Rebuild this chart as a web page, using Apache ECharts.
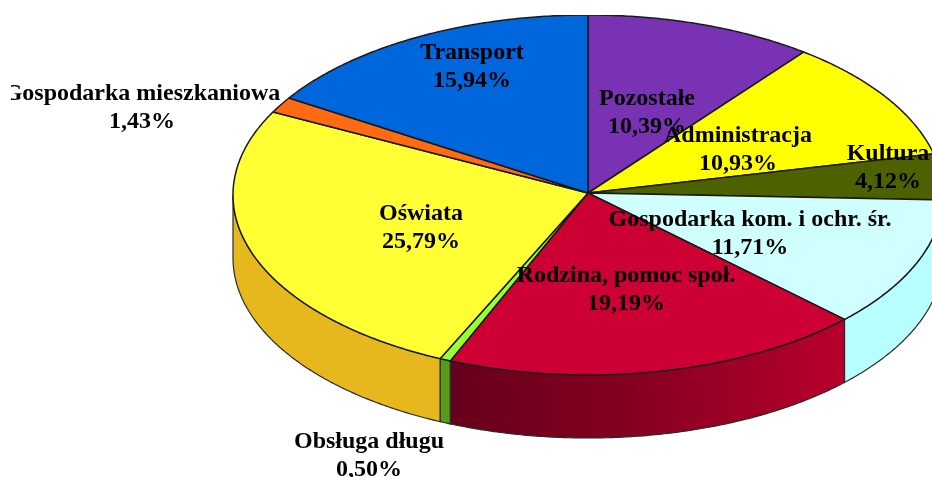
<!DOCTYPE html>
<html><head><meta charset="utf-8">
<style>html,body{margin:0;padding:0;background:#fff;overflow:hidden}#c{width:932px;height:477px}</style>
<script src="https://cdn.jsdelivr.net/npm/echarts@6/dist/echarts.min.js"></script></head>
<body><div id="c"></div>
<script>
const categories = ['Pozostałe','Administracja','Kultura','Gospodarka kom. i ochr. śr.','Rodzina, pomoc społ.','Obsługa długu','Oświata','Gospodarka mieszkaniowa','Transport'];
const shares = [10.39,10.93,4.12,11.71,19.19,0.50,25.79,1.43,15.94];
const topColors = ['#7a32b4','#ffff00','#4d6100','#d0ffff','#cc0033','#99ff33','#ffff33','#ff6a13','#0066dc'];
const wallColors = ['#5c2688','#bfbf00','#3a4900','#b8ffff',null,'#5a9a1a','#e6b81e','#bf4f0e','#004da5'];

// layout
const CX = 588, CY = 195, APEX_Y = 193, RX = 355, RY = 180, DEPTH = 63;
const labelAnchors = [[647,99],[738,136],[888,154],[750,220],[626,276],[369,442],[421,214],[142,94],[472,53]];
const LINE_H = 28;
const total = shares.reduce((a,b)=>a+b,0);
const cumulative = shares.reduce((acc,v)=>{acc.push(acc[acc.length-1]+v);return acc;},[0]);
const rim = (deg, dy) => {
  const t = deg*Math.PI/180;
  return [CX+RX*Math.sin(t), CY-RY*Math.cos(t)+(dy||0)];
};
const arc = (a,b,dy) => {
  const n = Math.max(2,Math.ceil(Math.abs(b-a)/0.5)), pts=[];
  for(let i=0;i<=n;i++) pts.push(rim(a+(b-a)*i/n,dy));
  return pts;
};
function renderSlice(params, api){
  const i = params.dataIndex;
  const a = cumulative[i]/total*360, b = cumulative[i+1]/total*360;
  const children = [];
  const wa = Math.max(a,90), wb = Math.min(b,270);
  if(wb>wa){
    const fill = wallColors[i] || new echarts.graphic.LinearGradient(0,0,1,0,[
      {offset:0,color:'#66001c'},{offset:0.45,color:'#84001f'},{offset:1,color:'#b8002c'}]);
    children.push({type:'polygon',z2:1,
      shape:{points:arc(wa,wb,0).concat(arc(wb,wa,DEPTH))},
      style:{fill:fill,stroke:'#2a2a2a',lineWidth:1.2}});
  }
  children.push({type:'polygon',z2:2,
    shape:{points:[[CX,APEX_Y]].concat(arc(a,b,0))},
    style:{fill:topColors[i],stroke:'#1a1a1a',lineWidth:1.5,lineJoin:'round'}});
  const [lx,ly] = labelAnchors[i];
  const pct = api.value(0).toFixed(2).replace('.',',')+'%';
  [categories[i],pct].forEach((t,k)=>children.push({type:'text',z2:10,
    style:{x:lx,y:ly+k*LINE_H,text:t,fill:'#000',align:'center',verticalAlign:'middle',
      font:'bold 24px "Liberation Serif","Times New Roman",serif'}}));
  return {type:'group',children};
}
const chart = echarts.init(document.getElementById('c'),null,{renderer:'canvas'});
chart.setOption({
  animation:false,
  backgroundColor:'#ffffff',
  series:[{type:'custom',coordinateSystem:'none',silent:true,clip:false,renderItem:renderSlice,data:shares}],
  graphic:[
    {type:'rect',z:100,shape:{x:0,y:0,width:11,height:477},style:{fill:'#fff'}},
    {type:'rect',z:100,shape:{x:0,y:0,width:932,height:15},style:{fill:'#fff'}}
  ]
});
</script></body></html>
